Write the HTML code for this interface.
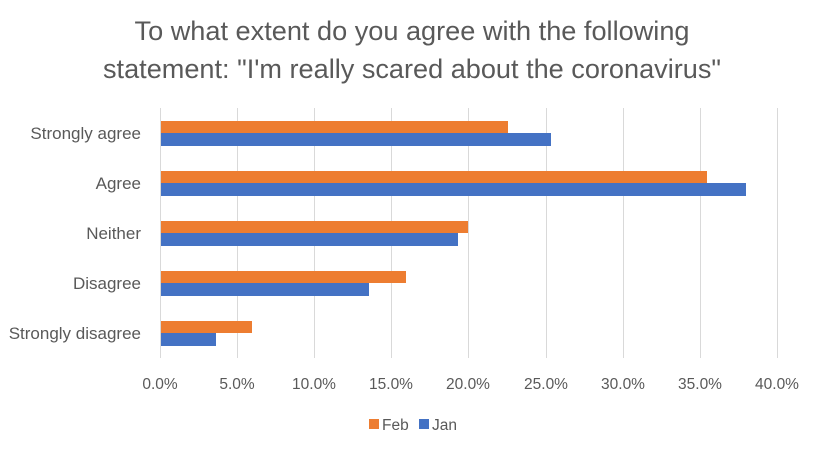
<!DOCTYPE html>
<html><head><meta charset="utf-8"><style>
body{margin:0;background:#fff;}
svg text{font-family:"Liberation Sans",sans-serif;fill:#595959;}
</style></head><body>
<svg width="819" height="455" viewBox="0 0 819 455" xmlns="http://www.w3.org/2000/svg">
<rect width="819" height="455" fill="#fff"/>
<text x="412" y="40" font-size="27" text-anchor="middle" textLength="555" lengthAdjust="spacingAndGlyphs">To what extent do you agree with the following</text>
<text x="412" y="78" font-size="27" text-anchor="middle" textLength="618" lengthAdjust="spacingAndGlyphs">statement: "I'm really scared about the coronavirus"</text>
<g stroke="#d9d9d9" stroke-width="1">
<line x1="160.5" y1="108" x2="160.5" y2="358"/>
<line x1="237.5" y1="108" x2="237.5" y2="358"/>
<line x1="314.5" y1="108" x2="314.5" y2="358"/>
<line x1="391.5" y1="108" x2="391.5" y2="358"/>
<line x1="468.5" y1="108" x2="468.5" y2="358"/>
<line x1="546.5" y1="108" x2="546.5" y2="358"/>
<line x1="623.5" y1="108" x2="623.5" y2="358"/>
<line x1="700.5" y1="108" x2="700.5" y2="358"/>
<line x1="777.5" y1="108" x2="777.5" y2="358"/>
</g>
<g fill="#ED7D31">
<rect x="161" y="121" width="347" height="12"/>
<rect x="161" y="171" width="546" height="12"/>
<rect x="161" y="221" width="307" height="12"/>
<rect x="161" y="271" width="245" height="12"/>
<rect x="161" y="321" width="91" height="12"/>
</g>
<g fill="#4472C4">
<rect x="161" y="133" width="390" height="13"/>
<rect x="161" y="183" width="585" height="13"/>
<rect x="161" y="233" width="297" height="13"/>
<rect x="161" y="283" width="208" height="13"/>
<rect x="161" y="333" width="55" height="13"/>
</g>
<g font-size="17" text-anchor="end">
<text x="141" y="139">Strongly agree</text>
<text x="141" y="189">Agree</text>
<text x="141" y="239">Neither</text>
<text x="141" y="289">Disagree</text>
<text x="141" y="339">Strongly disagree</text>
</g>
<g font-size="15.5" text-anchor="middle">
<text x="160" y="389">0.0%</text>
<text x="237" y="389">5.0%</text>
<text x="314" y="389">10.0%</text>
<text x="391" y="389">15.0%</text>
<text x="468" y="389">20.0%</text>
<text x="546" y="389">25.0%</text>
<text x="623" y="389">30.0%</text>
<text x="700" y="389">35.0%</text>
<text x="777" y="389">40.0%</text>
</g>
<rect x="369" y="419" width="10" height="10" fill="#ED7D31"/>
<text x="382" y="430" font-size="15.5">Feb</text>
<rect x="419" y="419" width="10" height="10" fill="#4472C4"/>
<text x="432" y="430" font-size="15.5">Jan</text>
</svg>
</body></html>
